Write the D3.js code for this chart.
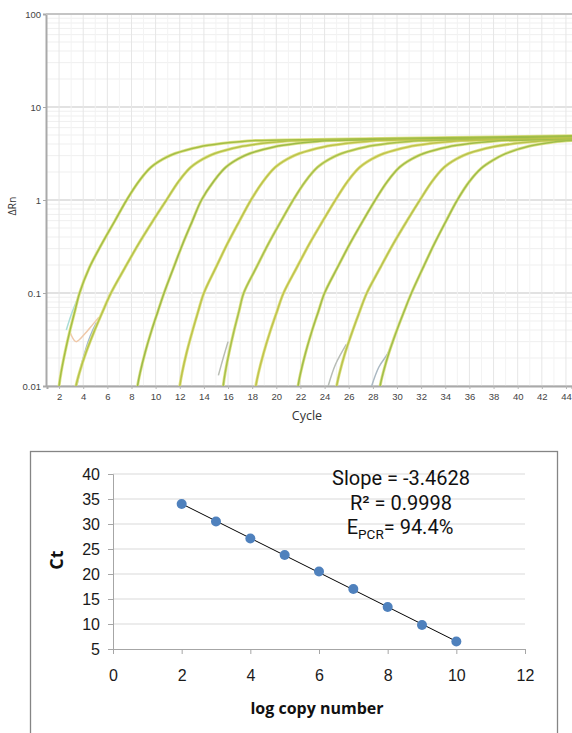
<!DOCTYPE html>
<html>
<head>
<meta charset="utf-8">
<script src="https://cdn.jsdelivr.net/npm/d3@7"></script>
<style>
body { margin: 0; background: #fff; }
svg { display: block; font-family: "Open Sans", sans-serif; }
</style>
</head>
<body>
<svg id="chart" width="572" height="733"></svg>
<script>
// amplification curves, [cycle, deltaRn] (one per dilution)
const g1 = [[1.92,.0076],[2.0,.01],[2.16,.0138],[2.49,.0229],[2.89,.0389],[3.3,.063],[3.7,.1],[4.5,.186],[5.55,.339],[6.6,.589],[7.6,1],[8.6,1.58],[9.6,2.24],[10.6,2.75],[11.6,3.16],[13.6,3.72],[15.6,4.07],[17.6,4.32],[20.6,4.42],[30,4.6],[44.5,4.9]];
const g2 = [[3.26,.0076],[3.4,.01],[3.68,.0138],[4.23,.0229],[4.92,.0389],[5.61,.063],[6.3,.1],[7.45,.186],[8.6,.339],[9.75,.589],[10.9,1],[11.9,1.58],[12.9,2.24],[13.9,2.75],[14.9,3.16],[16.9,3.72],[18.9,4.07],[20.9,4.32],[23.9,4.42],[33,4.55],[44.5,4.8]];
const g3 = [[8.39,.0076],[8.5,.01],[8.71,.0138],[9.13,.0229],[9.65,.0389],[10.18,.063],[10.7,.1],[11.48,.186],[12.25,.339],[13.03,.589],[13.8,1],[14.8,1.58],[15.8,2.24],[16.8,2.75],[17.8,3.16],[19.8,3.72],[21.8,4.07],[23.8,4.32],[26.8,4.42],[35,4.6],[44.5,4.8]];
const g4 = [[11.9,.0076],[12.0,.01],[12.19,.0138],[12.57,.0229],[13.05,.0389],[13.52,.063],[14.0,.1],[14.98,.186],[15.95,.339],[16.93,.589],[17.9,1],[18.9,1.58],[19.9,2.24],[20.9,2.75],[21.9,3.16],[23.9,3.72],[25.9,4.07],[27.9,4.32],[30.9,4.42],[38,4.5],[44.5,4.7]];
const g5 = [[15.52,.0076],[15.6,.01],[15.76,.0138],[16.09,.0229],[16.49,.0389],[16.9,.063],[17.3,.1],[18.33,.186],[19.35,.339],[20.38,.589],[21.4,1],[22.4,1.58],[23.4,2.24],[24.4,2.75],[25.4,3.16],[27.4,3.72],[29.4,4.07],[31.4,4.32],[34.4,4.42],[44.5,4.6]];
const g6 = [[18.19,.0076],[18.3,.01],[18.52,.0138],[18.96,.0229],[19.5,.0389],[20.05,.063],[20.6,.1],[21.68,.186],[22.75,.339],[23.83,.589],[24.9,1],[25.9,1.58],[26.9,2.24],[27.9,2.75],[28.9,3.16],[30.9,3.72],[32.9,4.07],[34.9,4.32],[37.9,4.42],[44.5,4.6]];
const g7 = [[21.69,.0076],[21.8,.01],[22.01,.0138],[22.43,.0229],[22.95,.0389],[23.48,.063],[24.0,.1],[25.05,.186],[26.1,.339],[27.15,.589],[28.2,1],[29.2,1.58],[30.2,2.24],[31.2,2.75],[32.2,3.16],[34.2,3.72],[36.2,4.07],[38.2,4.32],[41.2,4.42],[44.5,4.5]];
const g8 = [[24.88,.0076],[25.0,.01],[25.24,.0138],[25.71,.0229],[26.31,.0389],[26.9,.063],[27.5,.1],[28.6,.186],[29.7,.339],[30.8,.589],[31.9,1],[32.9,1.58],[33.9,2.24],[34.9,2.75],[35.9,3.16],[37.9,3.72],[39.9,4.07],[41.9,4.32],[44.5,4.42]];
const g9 = [[28.48,.0076],[28.6,.01],[28.85,.0138],[29.34,.0229],[29.96,.0389],[30.58,.063],[31.2,.1],[32.15,.186],[33.1,.339],[34.05,.589],[35.0,1],[36.0,1.58],[37.0,2.2],[38.0,2.7],[39.0,3.15],[41.0,3.8],[43.0,4.2],[44.5,4.35]];

// noisy early-cycle traces near the baseline
const tailBlue = [[3.4,.009],[3.9,.018],[4.6,.035],[5.1,.048]];
const tailCyan = [[2.6,.04],[3.0,.058],[3.5,.085]];
const tailPink = [[2.9,.038],[3.4,.03],[4.1,.036],[4.8,.046],[5.3,.055]];
const tailGrayA = [[15.2,.013],[15.6,.02],[16.0,.03]];
const tailGrayB = [[24.3,.01],[24.9,.017],[25.8,.028]];
const tailGrayC = [[27.9,.01],[28.5,.016],[29.2,.022],[29.7,.03]];

const ampCurves = [g1, g2, g3, g4, g5, g6, g7, g8, g9];
const ampTails = [tailBlue, tailCyan, tailPink, tailGrayA, tailGrayB, tailGrayC];
const cycleTicks = [2,4,6,8,10,12,14,16,18,20,22,24,26,28,30,32,34,36,38,40,42,44];
const rnTicks = [0.01, 0.1, 1, 10, 100];
const rnTickLabels = ['0.01', '0.1', '1', '10', '100'];

// standard curve
const logCopies = [2, 3, 4, 5, 6, 7, 8, 9, 10];
const ctValues = [34.0, 30.5, 27.1, 23.8, 20.5, 17.0, 13.4, 9.8, 6.5];
const ctTicks = [5, 10, 15, 20, 25, 30, 35, 40];
const copyTicks = [0, 2, 4, 6, 8, 10, 12];
const fitLines = ['Slope = -3.4628', 'R² = 0.9998'];

const curveColors = ['#a3bf45', '#b5c44a', '#9cbb48', '#bcc44a', '#a7c14c', '#c0c44b', '#a0bd48', '#b8c34c', '#9fbe4a'];
const tailColors = ['#9fb7d0', '#a9dcd8', '#efc8a8', '#b9bdb4', '#b7bcb6', '#aab8c2'];

const svg = d3.select('#chart');

// ---------- amplification plot ----------
const xAmp = d3.scaleLinear().domain([1, 44.5]).range([47, 572]);
const yAmp = d3.scaleLog().domain([0.01, 100]).range([386, 14]);

const ampG = svg.append('g');

ampG.append('clipPath').attr('id', 'ampClip')
    .append('rect')
    .attr('x', 46).attr('y', 14)
    .attr('width', 526).attr('height', 372);

// horizontal grid (log minor + decades)
ampG.append('g').selectAll('line')
    .data(yAmp.ticks())
    .enter().append('line')
    .attr('x1', 46).attr('x2', 572)
    .attr('y1', d => yAmp(d)).attr('y2', d => yAmp(d))
    .attr('stroke', d => rnTicks.includes(d) ? '#d9d9d9' : '#efefef')
    .attr('stroke-width', d => rnTicks.includes(d) ? 1.6 : 1);

// vertical grid
ampG.append('g').selectAll('line')
    .data(d3.range(2, 45))
    .enter().append('line')
    .attr('x1', d => xAmp(d)).attr('x2', d => xAmp(d))
    .attr('y1', 14).attr('y2', 386)
    .attr('stroke', d => d % 2 === 0 ? '#e6e6e6' : '#f3f3f3')
    .attr('stroke-width', 1);

// axes
const yAxisAmp = d3.axisLeft(yAmp).tickValues(rnTicks)
    .tickFormat((d, i) => rnTickLabels[i]).tickSize(3).tickPadding(2);
ampG.append('g')
    .attr('transform', 'translate(46,0)')
    .call(yAxisAmp)
    .call(g => g.select('.domain').attr('stroke', '#a9a9a9').attr('stroke-width', 2))
    .call(g => g.selectAll('.tick line').attr('stroke', '#a9a9a9'))
    .call(g => g.selectAll('text').attr('fill', '#444').attr('font-size', 9.5));

const xAxisAmp = d3.axisBottom(xAmp).tickValues(cycleTicks).tickSize(3).tickPadding(4);
ampG.append('g')
    .attr('transform', 'translate(0,386)')
    .call(xAxisAmp)
    .call(g => g.select('.domain').attr('stroke', '#a9a9a9').attr('stroke-width', 2))
    .call(g => g.selectAll('.tick line').attr('stroke', '#b5b5b5'))
    .call(g => g.selectAll('text').attr('fill', '#444').attr('font-size', 9.5));

ampG.append('line')
    .attr('x1', 46).attr('x2', 572).attr('y1', 14).attr('y2', 14)
    .attr('stroke', '#c4c4c4').attr('stroke-width', 2);

// curves
const ampLine = d3.line()
    .x(d => xAmp(d[0]))
    .y(d => yAmp(d[1]))
    .curve(d3.curveCatmullRom.alpha(0.5));

const curveG = ampG.append('g').attr('clip-path', 'url(#ampClip)');

curveG.selectAll('path.tail')
    .data(ampTails)
    .enter().append('path')
    .attr('class', 'tail')
    .attr('d', ampLine)
    .attr('fill', 'none')
    .attr('stroke', (d, i) => tailColors[i])
    .attr('stroke-width', 1.5);

curveG.selectAll('path.halo')
    .data(ampCurves)
    .enter().append('path')
    .attr('class', 'halo')
    .attr('d', ampLine)
    .attr('fill', 'none')
    .attr('stroke', '#e0e28c')
    .attr('stroke-width', 3);

curveG.selectAll('path.amp')
    .data(ampCurves)
    .enter().append('path')
    .attr('class', 'amp')
    .attr('d', ampLine)
    .attr('fill', 'none')
    .attr('stroke', (d, i) => curveColors[i])
    .attr('stroke-width', 1.5);

ampG.append('text')
    .attr('x', 307).attr('y', 420)
    .attr('text-anchor', 'middle')
    .attr('font-size', 12.5).attr('fill', '#333')
    .text('Cycle');

ampG.append('text')
    .attr('transform', 'translate(16,206) rotate(-90)')
    .attr('text-anchor', 'middle')
    .attr('font-size', 10.5).attr('fill', '#333')
    .text('ΔRn');

// ---------- standard curve ----------
const xStd = d3.scaleLinear().domain([0, 12]).range([113, 525]);
const yStd = d3.scaleLinear().domain([5, 40]).range([649, 474]);

const stdG = svg.append('g');

stdG.append('rect')
    .attr('x', 30.5).attr('y', 451.5)
    .attr('width', 527).attr('height', 300)
    .attr('fill', 'none')
    .attr('stroke', '#858585').attr('stroke-width', 1.3);

stdG.append('g').selectAll('line')
    .data(ctTicks.slice(1))
    .enter().append('line')
    .attr('x1', 113).attr('x2', 525)
    .attr('y1', d => yStd(d)).attr('y2', d => yStd(d))
    .attr('stroke', '#d9d9d9').attr('stroke-width', 1);

stdG.append('g')
    .attr('transform', 'translate(113,0)')
    .call(d3.axisLeft(yStd).tickValues(ctTicks).tickSize(5).tickPadding(8))
    .call(g => g.select('.domain').attr('stroke', '#a6a6a6'))
    .call(g => g.selectAll('.tick line').attr('stroke', '#a6a6a6'))
    .call(g => g.selectAll('text').attr('fill', '#1a1a1a').attr('font-size', 16));

stdG.append('g')
    .attr('transform', 'translate(0,649)')
    .call(d3.axisBottom(xStd).tickValues(copyTicks).tickSize(5).tickPadding(16))
    .call(g => g.select('.domain').attr('stroke', '#a6a6a6'))
    .call(g => g.selectAll('.tick line').attr('stroke', '#a6a6a6'))
    .call(g => g.selectAll('text').attr('fill', '#1a1a1a').attr('font-size', 16));

// least squares trend line
const pts = logCopies.map((x, i) => ({ x, y: ctValues[i] }));
const xMean = d3.mean(pts, d => d.x);
const yMean = d3.mean(pts, d => d.y);
const slope = d3.sum(pts, d => (d.x - xMean) * (d.y - yMean)) / d3.sum(pts, d => (d.x - xMean) ** 2);
const intercept = yMean - slope * xMean;
const xExt = d3.extent(logCopies);

stdG.append('line')
    .attr('x1', xStd(xExt[0])).attr('y1', yStd(slope * xExt[0] + intercept))
    .attr('x2', xStd(xExt[1])).attr('y2', yStd(slope * xExt[1] + intercept))
    .attr('stroke', '#000').attr('stroke-width', 1);

stdG.selectAll('circle')
    .data(pts)
    .enter().append('circle')
    .attr('cx', d => xStd(d.x))
    .attr('cy', d => yStd(d.y))
    .attr('r', 5)
    .attr('fill', '#4f81bd');

stdG.append('text')
    .attr('transform', 'translate(63,560) rotate(-90)')
    .attr('text-anchor', 'middle')
    .attr('font-size', 18).attr('font-weight', 'bold').attr('fill', '#111')
    .text('Ct');

stdG.append('text')
    .attr('x', 317).attr('y', 714)
    .attr('text-anchor', 'middle')
    .attr('font-size', 16).attr('font-weight', 'bold').attr('fill', '#111')
    .text('log copy number');

stdG.selectAll('text.fit')
    .data(fitLines)
    .enter().append('text')
    .attr('class', 'fit')
    .attr('x', 401).attr('y', (d, i) => 485 + i * 25)
    .attr('text-anchor', 'middle')
    .attr('font-family', 'Roboto, sans-serif')
    .attr('font-size', 20).attr('fill', '#111')
    .text(d => d);

const eText = stdG.append('text')
    .attr('x', 400).attr('y', 534)
    .attr('text-anchor', 'middle')
    .attr('font-family', 'Roboto, sans-serif')
    .attr('font-size', 20).attr('fill', '#111');
eText.append('tspan').text('E');
eText.append('tspan').attr('font-size', 13.5).attr('dy', 5).text('PCR');
eText.append('tspan').attr('dy', -5).text('= 94.4%');
</script>
</body>
</html>
